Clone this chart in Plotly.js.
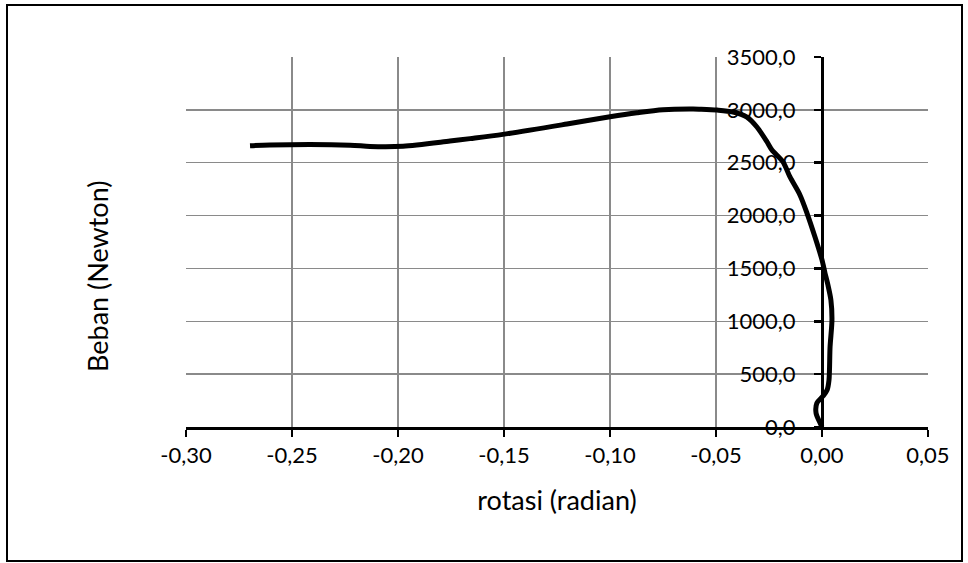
<!DOCTYPE html>
<html>
<head>
<meta charset="utf-8">
<script src="https://cdn.plot.ly/plotly-3.0.1.min.js"></script>
<style>
  html, body { margin: 0; padding: 0; background: #ffffff; }
  #chart { width: 968px; height: 563px; }
</style>
</head>
<body>
<div id="chart"></div>
<script>
// rotation (radian) and load (Newton), in drawing order
const rotasi = [
  0.0000, -0.0009, -0.0028, -0.0024, 0.0005, 0.0024, 0.0033, 0.0038, 0.0047, 0.0042,
  0.0028, 0.0014, 0.0000, -0.0033, -0.0071, -0.0104, -0.0151, -0.0184, -0.0236, -0.0259,
  -0.0307, -0.0354, -0.0420, -0.0495, -0.0575, -0.0608, -0.0750, -0.0873, -0.1000, -0.1203,
  -0.1505, -0.1660, -0.1755, -0.1976, -0.2132, -0.2226, -0.2604, -0.2698
];
const beban = [
  0, 38, 132, 227, 293, 350, 445, 757, 1012, 1201,
  1343, 1457, 1580, 1797, 2024, 2195, 2365, 2507, 2620, 2696,
  2838, 2932, 2980, 2998, 3006, 3008, 3002, 2973, 2935, 2866,
  2768, 2728, 2705, 2656, 2654, 2666, 2668, 2661
];

// tick labels as printed in the reference (hyphen minus, decimal comma)
const xTickVals = [-0.30, -0.25, -0.20, -0.15, -0.10, -0.05, 0.00, 0.05];
const xTickText = ['-0,30', '-0,25', '-0,20', '-0,15', '-0,10', '-0,05', '0,00', '0,05'];
const yTickVals = [0, 500, 1000, 1500, 2000, 2500, 3000, 3500];
const yTickText = ['0,0', '500,0', '1000,0', '1500,0', '2000,0', '2500,0', '3000,0', '3500,0'];

const xRange = [-0.30, 0.05];
const yRange = [0, 3500];
const xTitle = 'rotasi (radian)';
const yTitle = 'Beban (Newton)';

const W = 968, H = 563;
const M = { l: 186, r: 40, t: 57, b: 136 };
const pw = W - M.l - M.r, ph = H - M.t - M.b;
const px = v => (v - M.l) / pw;          // page px -> paper x
const py = v => (H - M.b - v) / ph;      // page px -> paper y

const font = 'Lato, "Open Sans", sans-serif';
const gridColor = '#8a8a8a';

const trace = {
  type: 'scatter',
  mode: 'lines',
  x: rotasi,
  y: beban,
  line: { color: '#000000', width: 5, shape: 'spline', smoothing: 0.8 },
  hoverinfo: 'skip',
  showlegend: false
};

const layout = {
  width: W, height: H,
  margin: M,
  paper_bgcolor: '#ffffff',
  plot_bgcolor: '#ffffff',
  font: { family: font, color: '#000000', size: 22 },
  xaxis: {
    range: xRange,
    tickmode: 'array',
    tickvals: xTickVals,
    ticktext: xTickText,
    showgrid: true, gridcolor: gridColor, gridwidth: 1.5,
    zeroline: false,
    showline: true, linecolor: '#000000', linewidth: 2.5,
    ticks: 'outside', ticklen: 7, tickwidth: 2.5, tickcolor: '#000000',
    tickfont: { family: font, size: 22, color: '#000000' },
    title: { text: xTitle, font: { family: font, size: 27, color: '#000000' }, standoff: 24 }
  },
  yaxis: {
    range: yRange,
    tickmode: 'array',
    tickvals: yTickVals,
    ticktext: yTickText,
    anchor: 'free',
    position: (0 - xRange[0]) / (xRange[1] - xRange[0]),
    side: 'left',
    showgrid: true, gridcolor: gridColor, gridwidth: 1.5,
    zeroline: false,
    showline: true, linecolor: '#000000', linewidth: 2.5,
    ticks: 'outside', ticklen: 7, tickwidth: 2.5, tickcolor: '#000000',
    ticklabelstandoff: 14,
    tickfont: { family: font, size: 22, color: '#000000' }
  },
  annotations: [{
    text: yTitle,
    xref: 'paper', yref: 'paper',
    x: px(97), y: py(277),
    xanchor: 'center', yanchor: 'middle',
    textangle: -90,
    showarrow: false,
    font: { family: font, size: 27, color: '#000000' }
  }],
  shapes: [{
    type: 'rect', xref: 'paper', yref: 'paper',
    x0: px(7), x1: px(962), y0: py(561), y1: py(5),
    line: { color: '#000000', width: 2 },
    fillcolor: 'rgba(0,0,0,0)',
    layer: 'below'
  }]
};

Plotly.newPlot('chart', [trace], layout, { displayModeBar: false, staticPlot: true });
</script>
</body>
</html>
